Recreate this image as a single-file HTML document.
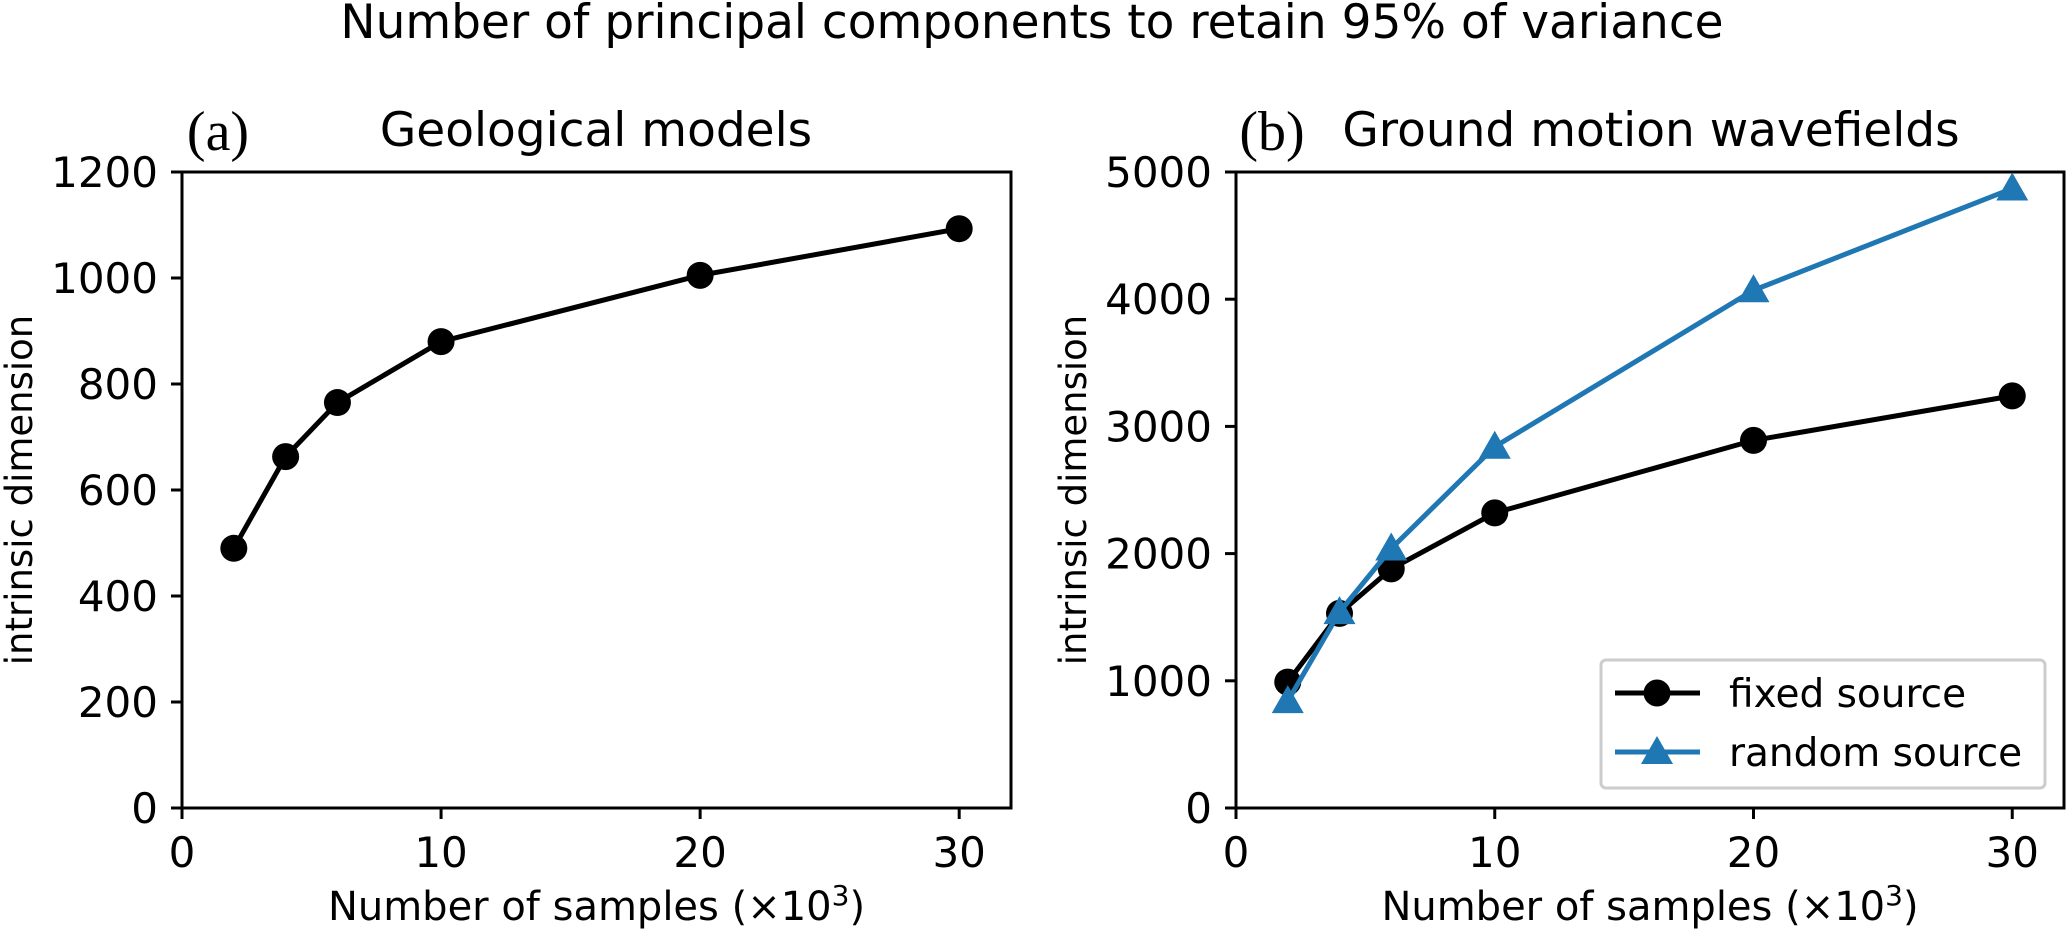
<!DOCTYPE html>
<html><head><meta charset="utf-8"><style>
html,body{margin:0;padding:0;background:#fff;}
svg{display:block;font-family:"DejaVu Sans","Liberation Sans",sans-serif;}
</style></head><body>
<svg id="fig" width="2067" height="934" viewBox="0 0 2067 934">
<text x="1032" y="38" font-size="47" text-anchor="middle">Number of principal components to retain 95% of variance</text>
<g id="pa"></g>
<g id="pb"></g>
</svg>
<script>
const xValues = [2, 4, 6, 10, 20, 30];
const geoValues = [490, 663, 765, 880, 1005, 1093];
const fixedValues = [990, 1530, 1880, 2320, 2890, 3240];
const randomValues = [840, 1540, 2040, 2840, 4070, 4870];
const xTicks = [0, 10, 20, 30];
const yTicksA = [0, 200, 400, 600, 800, 1000, 1200];
const yTicksB = [0, 1000, 2000, 3000, 4000, 5000];
const NS = "http://www.w3.org/2000/svg";
function mk(parent, tag, attrs, text) {
  const e = document.createElementNS(NS, tag);
  for (const k in attrs) e.setAttribute(k, attrs[k]);
  if (text !== undefined) e.textContent = text;
  parent.appendChild(e);
  return e;
}
const TOP = 172, BOT = 808;
function panel(g, left, right, ymax, yTicks, label, title, titleX, labelX) {
  const sx = v => left + (v / 32) * (right - left);
  const sy = v => BOT - (v / ymax) * (BOT - TOP);
  const frame = mk(g, 'rect', {x: left, y: TOP, width: right - left, height: BOT - TOP, fill: 'none', stroke: '#000', 'stroke-width': 3});
  
  
  xTicks.forEach(t => {
    const l = mk(g, 'line', {x1: sx(t), x2: sx(t), y1: BOT, y2: BOT + 11, stroke: '#000', 'stroke-width': 3});
    
    
    const tx = mk(g, 'text', {x: sx(t), y: BOT + 59, 'font-size': 42, 'text-anchor': 'middle'}, String(t));
    
    
  });
  yTicks.forEach(t => {
    const l = mk(g, 'line', {x1: left - 11, x2: left, y1: sy(t), y2: sy(t), stroke: '#000', 'stroke-width': 3});
    
    
    const tx = mk(g, 'text', {x: left - 24, y: sy(t) + 15, 'font-size': 42, 'text-anchor': 'end'}, String(t));
    
    
  });
  const xl = mk(g, 'text', {x: (left + right) / 2, y: 920, 'font-size': 40, 'text-anchor': 'middle'});
  
  
  xl.innerHTML = 'Number of samples (×10<tspan dy="-15" font-size="28">3</tspan><tspan dy="15">)</tspan>';
  const yl = mk(g, 'text', {x: 0, y: 0, 'font-size': 37, 'text-anchor': 'middle', transform: `translate(${labelX},${(TOP + BOT) / 2}) rotate(-90)`}, 'intrinsic dimension');
  
  
  const pl = mk(g, 'text', {x: left + 36, y: 150, 'font-size': 56, 'text-anchor': 'middle', 'font-family': '"Liberation Serif",serif'}, label);
  
  
  const ti = mk(g, 'text', {x: titleX, y: 146, 'font-size': 47, 'text-anchor': 'middle'}, title);
  
  
  return {sx, sy};
}
function circles(g, sx, sy, ys) {
  const pts = xValues.map((x, i) => sx(x) + ',' + sy(ys[i])).join(' ');
  const pl = mk(g, 'polyline', {points: pts, fill: 'none', stroke: '#000', 'stroke-width': 5});
  
  
  xValues.forEach((x, i) => {
    const c = mk(g, 'circle', {cx: sx(x), cy: sy(ys[i]), r: 13.5, fill: '#000'});
    
    
  });
}
function triangle(g, cx, cy) {
  const r = 16;
  const t = mk(g, 'polygon', {points: `${cx},${cy - r} ${cx - r},${cy + r * 0.75} ${cx + r},${cy + r * 0.75}`, fill: '#1f77b4'});
  return t;
}
const a = panel(document.getElementById('pa'), 182, 1011, 1200, yTicksA, '(a)', 'Geological models', 596, 32);
circles(document.getElementById('pa'), a.sx, a.sy, geoValues);
const gb = document.getElementById('pb');
const b = panel(gb, 1236, 2064, 5000, yTicksB, '(b)', 'Ground motion wavefields', 1651, 1086);
circles(gb, b.sx, b.sy, fixedValues);
const rp = mk(gb, 'polyline', {points: xValues.map((x, i) => b.sx(x) + ',' + b.sy(randomValues[i])).join(' '), fill: 'none', stroke: '#1f77b4', 'stroke-width': 5});


xValues.forEach((x, i) => {
  const t = triangle(gb, b.sx(x), b.sy(randomValues[i]));
  
  
});
const leg = mk(gb, 'g', {});


mk(leg, 'rect', {x: 1601, y: 660, width: 444, height: 128, rx: 5, fill: '#fff', stroke: '#ccc', 'stroke-width': 3});
mk(leg, 'line', {x1: 1615, x2: 1700, y1: 693, y2: 693, stroke: '#000', 'stroke-width': 5});
mk(leg, 'circle', {cx: 1657, cy: 693, r: 13.5, fill: '#000'});
const l1 = mk(leg, 'text', {x: 1729, y: 707, 'font-size': 39}, 'fixed source');


mk(leg, 'line', {x1: 1615, x2: 1700, y1: 752, y2: 752, stroke: '#1f77b4', 'stroke-width': 5});
triangle(leg, 1657, 752);
const l2 = mk(leg, 'text', {x: 1729, y: 766, 'font-size': 39}, 'random source');


</script>
</body></html>
